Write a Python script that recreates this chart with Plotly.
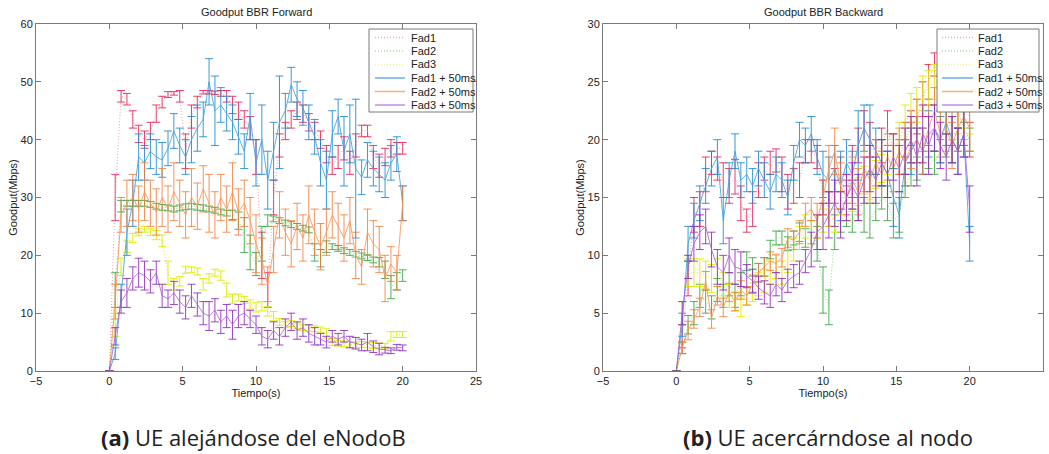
import plotly.graph_objects as go

# Sample times (s)
t = [0.0, 0.4, 0.8, 1.2, 1.6, 2.0, 2.4, 2.8, 3.2, 3.6, 4.0, 4.4, 4.8, 5.2, 5.6, 6.0, 6.4,
     6.8, 7.2, 7.6, 8.0, 8.4, 8.8, 9.2, 9.6, 10.0, 10.4, 10.8, 11.2, 11.6, 12.0, 12.4, 12.8,
     13.2, 13.6, 14.0, 14.4, 14.8, 15.2, 15.6, 16.0, 16.4, 16.8, 17.2, 17.6, 18.0, 18.4,
     18.8, 19.2, 19.6, 20.0]

series_names = ["Fad1", "Fad2", "Fad3", "Fad1 + 50ms", "Fad2 + 50ms", "Fad3 + 50ms"]

# ---- Goodput BBR Forward (Mbps) ----
fwd_fad1 = [0, 30, 47.5, 47, 43.5, 41, 40, 41.5, 44.5, 46.5, 47.8, 48, 47.5, 38, 44, 46.5, 48.2,
            48.2, 48.1, 48, 47.5, 46, 45, 43.5, 42, 37, 20, 14, 30, 39, 41.5, 43.5, 45, 44.5,
            43, 41.5, 40, 37.5, 35.5, 37, 38.5, 36, 39, 41.5, 41.5, 37, 35.5, 37, 38.5, 38.5, 38.5]
fwd_fad1_err = [0, 4, 1, 1, 1.5, 1.5, 1.5, 1.5, 1.5, 1, 0.5, 0.3, 1, 3, 2, 1, 0.3, 0.3, 0.3, 0.5,
                1, 1.5, 1.5, 1.5, 2, 3, 4, 3, 3, 2, 1.5, 1.5, 1.5, 1.5, 1.5, 1.5, 1.5, 1.5, 1.5,
                2, 2, 2, 2, 1, 1, 2, 2, 1.5, 1.5, 1, 1]
fwd_fad2 = [0, 14, 28.5, 29, 29, 29, 29, 28.8, 28.5, 28.3, 28.2, 28, 28.2, 28.4, 28.5, 28.3, 28.2,
            28, 27.8, 27.5, 27.3, 27, 26, 23.5, 20.5, 18.5, 22, 26, 26.3, 26, 25.6, 25.3, 25,
            24.7, 24.4, 20.5, 19.5, 21.5, 21.5, 21.2, 20.8, 20.5, 20.2, 19.9, 19.6, 19.2, 18.8,
            17.5, 14.5, 15.5, 16.5]
fwd_fad2_err = [0, 3, 1, 0.5, 0.5, 0.5, 0.5, 0.5, 0.5, 0.5, 0.5, 0.5, 0.5, 0.5, 0.5, 0.5, 0.5,
                0.5, 0.5, 0.5, 0.5, 0.8, 1.5, 3, 3, 2, 3, 1, 0.5, 0.5, 0.5, 0.5, 0.5, 0.5, 0.5,
                1.5, 1.5, 1, 0.5, 0.5, 0.5, 0.5, 0.5, 0.5, 0.5, 0.5, 0.8, 1.5, 2, 1.5, 1]
fwd_fad3 = [0, 8, 18, 21.5, 23, 24, 24.5, 24, 23.5, 22.5, 17, 15, 15.5, 17.5, 17.5, 17.2, 15,
            16, 17, 16.5, 14, 12.5, 12.7, 12.3, 11.5, 11, 11.2, 10.3, 9.5, 8.5, 8, 8.2, 7.8,
            7.5, 7.4, 7.3, 7.1, 6.5, 5, 4.8, 4.7, 4.6, 4.5, 4.6, 4.5, 4.4, 4.3, 4.3, 6, 6.3, 6.3]
fwd_fad3_err = [0, 2, 1.5, 1, 0.8, 0.6, 0.5, 0.6, 0.8, 1, 2, 1, 0.8, 0.6, 0.5, 0.6, 1, 0.8, 0.6,
                0.8, 1.2, 0.8, 0.6, 0.6, 0.8, 0.8, 0.8, 0.8, 0.8, 0.6, 0.5, 0.5, 0.5, 0.5, 0.5,
                0.5, 0.5, 0.8, 0.6, 0.5, 0.5, 0.5, 0.5, 0.5, 0.5, 0.5, 0.5, 0.5, 0.8, 0.5, 0.5]
fwd_fad1_50 = [0, 3, 13, 24, 29, 37, 36, 38, 37, 36.5, 38.5, 41.5, 39, 37, 40, 42, 43.5, 50, 45,
               46, 44.5, 43, 40.5, 38, 44, 36, 40, 33, 38, 43, 45, 49.5, 47, 45.5, 43, 40.5,
               36, 33, 41, 44, 38, 41, 35, 33.5, 36.5, 35, 34, 33, 36, 37.5, 29]
fwd_fad1_50_err = [0, 1, 2, 4, 4, 4, 3, 3, 3, 3, 3, 3, 3, 3, 4, 4, 3, 4, 6, 3, 3, 3, 3, 3, 4, 4,
                   6, 5, 5, 8, 3, 3, 3, 3, 3, 3, 4, 5, 4, 3, 6, 5, 12, 3, 3, 3, 3, 3, 3, 3, 3]
fwd_fad2_50 = [0, 12, 27, 29, 30, 28, 31, 29, 27.5, 30, 28, 31, 29, 27, 30, 28.5, 31.5, 29, 27,
               30, 28, 31, 27.5, 29, 26, 22, 19, 15, 21, 27, 24, 22, 25, 23, 27, 24, 21.5, 24,
               27, 25, 23, 26, 20, 18, 24, 22, 21, 16, 18.5, 17, 29]
fwd_fad2_50_err = [0, 3, 3, 4, 4, 4, 5, 4, 4, 5, 4, 5, 4, 4, 5, 4, 4, 5, 4, 4, 4, 5, 4, 4, 4, 5,
                   4, 3, 4, 4, 4, 4, 4, 4, 5, 4, 4, 4, 4, 4, 4, 4, 4, 3, 4, 4, 4, 4, 3, 3, 3]
fwd_fad3_50 = [0, 6, 12, 13.5, 16, 17, 16.5, 15.5, 17, 13, 12.5, 13.5, 12, 11, 13, 11.5, 10, 9.5,
               10.5, 8.5, 9.5, 8, 9.5, 10, 9, 8, 6, 5.5, 7, 6, 7.5, 8.5, 7, 7.5, 6.5, 6, 5.5, 5,
               6, 5.5, 6, 5, 4.8, 4.5, 5, 4.2, 3.8, 3.6, 3.5, 4.1, 4]
fwd_fad3_50_err = [0, 1.5, 2, 2.5, 2, 2.5, 2.5, 2, 2, 2, 1.5, 2, 2, 2, 2, 2, 2, 2.5, 2, 2, 2, 2.5,
                   2, 2, 1.5, 1.5, 1.5, 1.5, 1.5, 1.5, 1.5, 1.5, 1.5, 1.5, 1.5, 1.5, 1, 1, 1, 1,
                   1, 1, 1, 1, 1.5, 1, 1, 0.5, 0.5, 0.5, 0.5]

# ---- Goodput BBR Backward (Mbps) ----
bwd_fad1 = [0, 3, 8, 13.5, 14, 17, 18, 17.5, 16.5, 16, 16.8, 14.5, 13, 14, 16.5, 17.5, 18, 18.2,
            17, 15.5, 16, 16.5, 19, 19, 18.5, 15, 14, 16, 17, 15, 18, 19.5, 21, 20, 18.5, 19.5,
            21, 19, 18.5, 20, 21, 22, 23.5, 25, 26.5, 24, 22, 21, 22.5, 21, 20]
bwd_fad1_err = [0, 1, 1.5, 1.5, 1.5, 1.5, 1, 1, 1.5, 1.5, 1.5, 1.5, 1, 1.5, 1.5, 1, 1, 1, 1.5,
                1.5, 1.5, 1.5, 1, 1, 1, 1.5, 1.5, 1.5, 1.5, 1.5, 1.5, 1.5, 1.5, 1.5, 1.5, 1.5,
                1.5, 1.5, 1.5, 1.5, 1.5, 1.5, 1.5, 1.5, 1, 1.5, 1.5, 1.5, 1.5, 1.5, 1.5]
bwd_fad2 = [0, 2, 4, 5, 6.5, 6, 5.5, 7, 6.5, 7.5, 6.5, 7.5, 9.5, 9, 8.5, 9, 10.5, 11.5, 11.5, 11,
            11.5, 12, 11.5, 12, 11, 7, 5.5, 12, 13, 13.5, 13, 14, 13.5, 13, 14, 15, 14.5, 13,
            13.5, 16, 17, 17.5, 18, 18.5, 18, 19, 19.5, 19, 20, 20.5, 20]
bwd_fad2_err = [0, 0.5, 0.8, 1, 1, 1, 1, 1, 1, 1, 1, 1, 0.8, 0.8, 0.8, 0.8, 0.8, 0.6, 0.6, 0.6,
                0.6, 0.8, 0.8, 1, 1.5, 2, 1.5, 1.5, 1, 1, 1, 1, 1.5, 1.5, 1, 1, 1.5, 1.5, 1.5, 1,
                1, 1, 1, 1, 1, 1, 1, 1, 1, 1, 1]
bwd_fad3 = [0, 5, 8.5, 8.5, 8.5, 8.3, 8, 8.5, 7.5, 6.5, 6, 5.5, 6.5, 6.8, 7.5, 7.8, 8.5, 9, 8.5,
            9.5, 10.5, 11.5, 12.5, 12, 12.5, 13, 13.5, 13, 14.5, 14, 15, 15.5, 16.5, 16, 17, 17.5,
            18.5, 19, 20, 21.5, 22.5, 23, 24, 24.5, 25, 23.5, 22, 21.5, 22, 22.5, 22]
bwd_fad3_err = [0, 1, 1.2, 1.2, 1.2, 1.2, 1.2, 1.2, 1, 1, 0.8, 0.8, 0.8, 0.8, 1, 1, 1, 1, 1, 1,
                1, 1, 1, 1, 1, 1, 1, 1, 1, 1, 1.2, 1.2, 1.2, 1.2, 1.2, 1.2, 1.5, 1.5, 1.5, 1.5,
                1.5, 1.5, 1.5, 1.5, 1.5, 1.5, 1.5, 1.5, 1.5, 1.5, 1.5]
bwd_fad1_50 = [0, 4, 11, 13, 14.5, 16, 17.5, 18.5, 13, 16.5, 19, 16.5, 17, 16, 17.5, 16.5, 15.5,
               17, 16.5, 15, 18, 20, 19.5, 20.5, 18.5, 17, 16.5, 17.5, 16, 18, 17, 19.5, 21, 20,
               19, 18, 17, 15, 13.5, 18, 19, 20, 19, 20.5, 21, 20, 21.5, 20, 19, 20.5, 11]
bwd_fad1_50_err = [0, 1, 1.5, 1.5, 1.5, 1.5, 1.5, 1.5, 2, 1.5, 1.5, 1.5, 1.5, 1.5, 1.5, 1.5, 1.5,
                   1.5, 1.5, 1.5, 1.5, 1.5, 1.5, 1.5, 1.5, 2, 2, 2, 3, 2, 2, 3, 2, 3, 2, 2, 2, 2.5,
                   2, 2, 2, 2, 2, 2, 2, 2, 2, 2, 2, 2, 1.5]
bwd_fad2_50 = [0, 2, 3.5, 4.5, 5.5, 7.8, 4.5, 6.5, 5.5, 6.8, 6, 7, 6.5, 7.5, 8.5, 9, 9.5, 9.3,
               9.8, 11.5, 11.3, 12, 13.5, 14, 13, 15, 17.5, 19, 16, 15, 16.5, 15.5, 17.5, 16.5,
               18, 17, 18.5, 17.5, 19, 18, 19.5, 20, 19, 21, 22.5, 20.5, 21, 19.5, 21, 22, 21]
bwd_fad2_50_err = [0, 0.5, 0.8, 0.8, 0.8, 0.8, 0.8, 0.8, 0.8, 0.8, 0.8, 0.8, 0.8, 0.8, 0.8, 0.8,
                   0.8, 0.8, 0.8, 0.8, 0.8, 1, 1, 1, 1.5, 1.5, 2, 2, 2, 2, 2, 2, 2, 2, 2, 2, 2, 2,
                   2, 2, 2, 2, 2, 2, 2, 2, 2, 2, 2, 2, 2]
bwd_fad3_50 = [0, 5, 9, 11, 12, 12.5, 10.5, 9, 8.5, 10, 9, 8.8, 8.2, 7.8, 7.2, 6.8, 6.5, 7.5, 7,
               7.8, 8.2, 8.5, 9.5, 10.5, 12, 12.5, 13.5, 14.5, 13.5, 15, 16, 15, 16.5, 17.5, 16.5,
               18, 17, 18.5, 17.5, 19, 20, 18.5, 20.5, 19.5, 21, 19.5, 18.5, 20, 19, 20.5, 14]
bwd_fad3_50_err = [0, 1, 1, 1.5, 1.5, 1.5, 1.5, 1.5, 1.5, 1.5, 1.5, 1.5, 1, 1, 1, 1, 1, 1, 1, 1,
                   1, 1, 1, 1.5, 1.5, 2, 2, 2, 2, 2, 2, 2, 2, 2, 2, 2, 2, 2, 2, 2, 2, 2.5, 2.5, 2.5,
                   2, 2, 2, 2, 2, 2, 2]

# Styling per series: line colour, dash, error-bar colour
line_colors = ["rgba(240,130,160,0.8)", "rgba(120,205,120,0.8)", "rgba(215,230,60,0.9)",
               "rgba(70,160,220,0.85)", "rgba(248,150,90,0.85)", "rgba(170,90,210,0.8)"]
legend_colors = ["#f2a6bd", "#a8e0a8", "#eef39a", "#6ab2e2", "#f9b183", "#c68fe3"]
err_colors = ["rgba(228,30,80,0.85)", "rgba(50,165,60,0.85)", "rgba(222,235,0,0.9)",
              "rgba(25,135,210,0.85)", "rgba(240,120,50,0.8)", "rgba(140,40,190,0.85)"]
dashes = ["1px,2px", "1px,2px", "1px,2px", "solid", "solid", "solid"]

fwd = [(fwd_fad1, fwd_fad1_err), (fwd_fad2, fwd_fad2_err), (fwd_fad3, fwd_fad3_err),
       (fwd_fad1_50, fwd_fad1_50_err), (fwd_fad2_50, fwd_fad2_50_err), (fwd_fad3_50, fwd_fad3_50_err)]
bwd = [(bwd_fad1, bwd_fad1_err), (bwd_fad2, bwd_fad2_err), (bwd_fad3, bwd_fad3_err),
       (bwd_fad1_50, bwd_fad1_50_err), (bwd_fad2_50, bwd_fad2_50_err), (bwd_fad3_50, bwd_fad3_50_err)]

W, H = 1049, 454


def px(x):
    return x / W


def py(y):
    return 1 - y / H


fig = go.Figure()
for panel, (xa, ya) in ((fwd, ("x", "y")), (bwd, ("x2", "y2"))):
    for i, (vals, err) in enumerate(panel):
        fig.add_trace(go.Scatter(
            x=t, y=vals, mode="lines", name=series_names[i], showlegend=False,
            xaxis=xa, yaxis=ya,
            line=dict(color=line_colors[i], width=1, dash=dashes[i]),
            error_y=dict(type="data", array=err, visible=True, color=err_colors[i],
                         thickness=1, width=4),
        ))

label_font = dict(family="Liberation Sans, Arial", size=11, color="#222")
axis_common = dict(showline=True, linecolor="#7a7a7a", linewidth=1, mirror="ticks",
                   ticks="inside", ticklen=5, tickcolor="#7a7a7a", showgrid=False,
                   zeroline=False, tickfont=label_font, automargin=False)

fig.update_layout(
    width=W, height=H, margin=dict(l=0, r=0, t=0, b=0),
    paper_bgcolor="white", plot_bgcolor="white",
    xaxis=dict(domain=[px(36), px(476)], range=[-5, 25], dtick=5, anchor="y",
               title=dict(text="Tiempo(s)", font=label_font, standoff=2), **axis_common),
    yaxis=dict(domain=[py(371), py(24)], range=[0, 60], dtick=10, anchor="x",
               title=dict(text="Goodput(Mbps)", font=label_font, standoff=0), **axis_common),
    xaxis2=dict(domain=[px(603), px(1043)], range=[-5, 25], dtick=5, anchor="y2",
                title=dict(text="Tiempo(s)", font=label_font, standoff=2), **axis_common),
    yaxis2=dict(domain=[py(371), py(24)], range=[0, 30], dtick=5, anchor="x2",
                title=dict(text="Goodput(Mbps)", font=label_font, standoff=0), **axis_common),
)

annotations = []
shapes = []

# Panel titles
for cx, txt in ((256, "Goodput BBR Forward"), (823, "Goodput BBR Backward")):
    annotations.append(dict(x=px(cx), y=py(12), xref="paper", yref="paper", text=txt,
                            showarrow=False, xanchor="center", yanchor="middle",
                            font=label_font))

# Legend boxes
row_y = [37.5, 51, 64.5, 78, 91.5, 105]
for (bx0, bx1, lx0, lx1, tx) in ((369, 473, 375, 405, 409), (937, 1039, 942, 973, 976)):
    shapes.append(dict(type="rect", xref="paper", yref="paper", x0=px(bx0), x1=px(bx1),
                       y0=py(112), y1=py(29), line=dict(color="#7a7a7a", width=1),
                       fillcolor="white", layer="above"))
    for i, name in enumerate(series_names):
        shapes.append(dict(type="line", xref="paper", yref="paper", x0=px(lx0), x1=px(lx1),
                           y0=py(row_y[i]), y1=py(row_y[i]), layer="above",
                           line=dict(color=legend_colors[i], width=1.5, dash=dashes[i])))
        annotations.append(dict(x=px(tx), y=py(row_y[i]), xref="paper", yref="paper",
                                text=name, showarrow=False, xanchor="left", yanchor="middle",
                                font=label_font))

# Captions
for cx, txt in ((253, "<b>(a)</b> UE alejándose del eNodoB"), (828, "<b>(b)</b> UE acercárndose al nodo")):
    annotations.append(dict(x=px(cx), y=py(437), xref="paper", yref="paper", text=txt,
                            showarrow=False, xanchor="center", yanchor="middle",
                            font=dict(family="Open Sans", size=22, color="#222")))

fig.update_layout(annotations=annotations, shapes=shapes)
fig.write_html("out.html")
